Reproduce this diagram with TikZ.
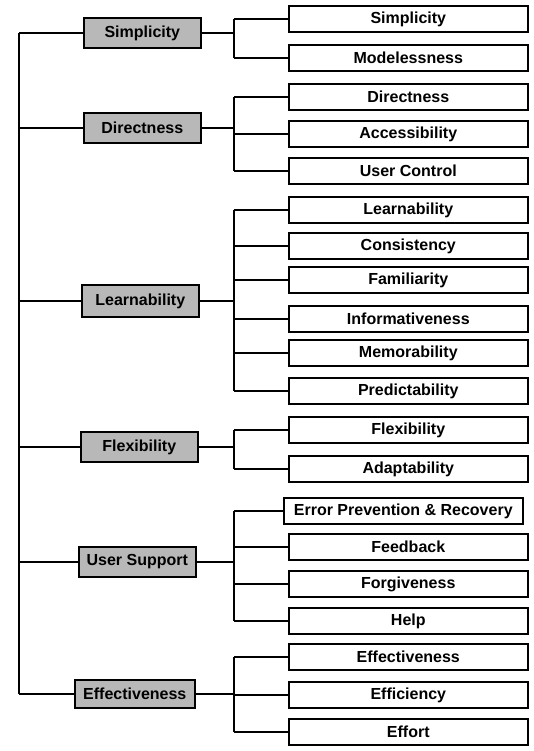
\documentclass[tikz,border=0pt]{standalone}
\usepackage{fontspec}
\setmainfont{Liberation Sans}
\begin{document}
\begin{tikzpicture}[x=1pt,y=-1pt,
  base/.style={draw=black, line width=1.6pt, inner sep=0pt, font=\fontsize{16}{18}\selectfont\bfseries, anchor=west},
  catbox/.style={base, fill=black!28, minimum width=117pt, minimum height=30pt},
  subbox/.style={base, fill=white, minimum width=239pt, minimum height=26pt},
  link/.style={line width=1.6pt}]
\useasboundingbox (0,0) rectangle (533,751);
\coordinate (trunk) at (19,0);
\coordinate (br) at (234,0);

% category boxes
\node[catbox] (cS) at (83,33) {Simplicity};
\node[catbox] (cD) at (83,128) {Directness};
\node[catbox, minimum height=32pt] (cL) at (81,301) {Learnability};
\node[catbox] (cF) at (80,447) {Flexibility};
\node[catbox] (cU) at (78,562) {User Support};
\node[catbox, minimum width=120pt, minimum height=28pt] (cE) at (74,694) {Effectiveness};

% sub boxes
\node[subbox] (s1) at (288,19) {Simplicity};
\node[subbox] (s2) at (288,58) {Modelessness};
\node[subbox] (d1) at (288,97) {Directness};
\node[subbox] (d2) at (288,134) {Accessibility};
\node[subbox] (d3) at (288,171) {User Control};
\node[subbox] (l1) at (288,210) {Learnability};
\node[subbox] (l2) at (288,246) {Consistency};
\node[subbox] (l3) at (288,280) {Familiarity};
\node[subbox] (l4) at (288,319) {Informativeness};
\node[subbox] (l5) at (288,353) {Memorability};
\node[subbox] (l6) at (288,391) {Predictability};
\node[subbox] (f1) at (288,430) {Flexibility};
\node[subbox] (f2) at (288,469) {Adaptability};
\node[subbox] (u1) at (283,511) {Error Prevention \& Recovery};
\node[subbox] (u2) at (288,547) {Feedback};
\node[subbox] (u3) at (288,584) {Forgiveness};
\node[subbox] (u4) at (288,621) {Help};
\node[subbox] (e1) at (288,657) {Effectiveness};
\node[subbox] (e2) at (288,695) {Efficiency};
\node[subbox] (e3) at (288,732) {Effort};

% trunk
\draw[link] (cS.west -| trunk) -- (cE.west -| trunk);
\foreach \c in {cS,cD,cL,cF,cU,cE}
  \draw[link] (\c.west -| trunk) -- (\c.west);

% brackets
\foreach \c/\first/\last in {cS/s1/s2, cD/d1/d3, cL/l1/l6, cF/f1/f2, cU/u1/u4, cE/e1/e3}{
  \draw[link] (\c.east) -- (\c.east -| br);
  \draw[link] (\first.west -| br) -- (\last.west -| br);
}
\foreach \s in {s1,s2,d1,d2,d3,l1,l2,l3,l4,l5,l6,f1,f2,u1,u2,u3,u4,e1,e2,e3}
  \draw[link] (\s.west -| br) -- (\s.west);
\end{tikzpicture}
\end{document}
